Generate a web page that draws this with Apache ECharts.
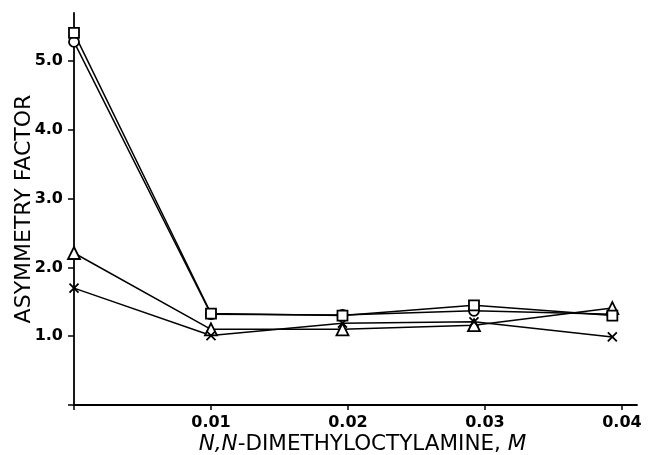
<!DOCTYPE html>
<html>
<head>
<meta charset="utf-8">
<script src="https://cdn.jsdelivr.net/npm/echarts@6/dist/echarts.min.js"></script>
<style>
  html, body { margin: 0; padding: 0; background: #fff; }
  #chart { width: 648px; height: 455px; }
</style>
</head>
<body>
<div id="chart"></div>
<script>
// amine concentration (M) and asymmetry factors
var conc = [0, 0.01, 0.0196, 0.0292, 0.0393];
var squareVals = [5.41, 1.33, 1.30, 1.45, 1.30];
var circleVals = [5.28, 1.32, 1.31, 1.37, 1.32];
var triangleVals = [2.21, 1.10, 1.10, 1.16, 1.41];
var crossVals = [1.70, 1.01, 1.19, 1.21, 0.99];
var xTicks = [0.01, 0.02, 0.03, 0.04];
var yTicks = [1, 2, 3, 4, 5];

function pairs(vals) {
    var out = [];
    for (var i = 0; i < conc.length; i++) out.push([conc[i], vals[i]]);
    return out;
}

function makeSeries(name, vals, symbol, size) {
    return {
        name: name,
        type: 'line',
        data: pairs(vals),
        symbol: symbol,
        symbolSize: size,
        clip: false,
        lineStyle: { color: '#000', width: 1.5 },
        itemStyle: { color: '#fff', borderColor: '#000', borderWidth: 1.8 },
        emphasis: { disabled: true }
    };
}

var chart = echarts.init(document.getElementById('chart'));
var font = 'DejaVu Sans, Arial, sans-serif';

chart.setOption({
    animation: false,
    backgroundColor: '#fff',
    grid: { left: 74, right: 11, top: 13, bottom: 50, containLabel: false, outerBoundsMode: 'none' },
    xAxis: {
        type: 'value',
        min: 0,
        max: 0.0411,
        name: '{i|N,N}-DIMETHYLOCTYLAMINE, {i|M}',
        nameLocation: 'middle',
        nameGap: 28,
        nameMoveOverlap: false,
        nameTextStyle: {
            fontFamily: font, fontSize: 21.5, color: '#000', padding: [0, 0, 0, 14],
            rich: { i: { fontStyle: 'italic', fontFamily: font, fontSize: 21.5, color: '#000' } }
        },
        splitLine: { show: false },
        axisLine: { onZero: false, lineStyle: { color: '#000', width: 1.8 } },
        axisTick: { show: true, customValues: [0].concat(xTicks), length: 5, lineStyle: { color: '#000', width: 1.5 } },
        axisLabel: {
            customValues: xTicks,
            formatter: function (v) { return v.toFixed(2); },
            fontFamily: font, fontSize: 16, fontWeight: 'bold', color: '#000', margin: 10
        }
    },
    yAxis: {
        type: 'value',
        min: 0,
        max: 5.7,
        name: 'ASYMMETRY FACTOR',
        nameLocation: 'middle',
        nameGap: 39,
        nameMoveOverlap: false,
        nameTextStyle: { fontFamily: font, fontSize: 22, color: '#000' },
        splitLine: { show: false },
        axisLine: { onZero: false, lineStyle: { color: '#000', width: 1.8 } },
        axisTick: { show: true, customValues: [0].concat(yTicks), length: 6, lineStyle: { color: '#000', width: 1.5 } },
        axisLabel: {
            customValues: yTicks,
            formatter: function (v) { return v.toFixed(1); },
            fontFamily: font, fontSize: 16, fontWeight: 'bold', color: '#000', margin: 11
        }
    },
    series: [
        makeSeries('circle', circleVals, 'circle', 10),
        makeSeries('triangle', triangleVals, 'triangle', 12),
        makeSeries('cross', crossVals, 'path://M0,0L10,10M10,0L0,10', 9),
        makeSeries('square', squareVals, 'rect', 10)
    ]
});
</script>
</body>
</html>
